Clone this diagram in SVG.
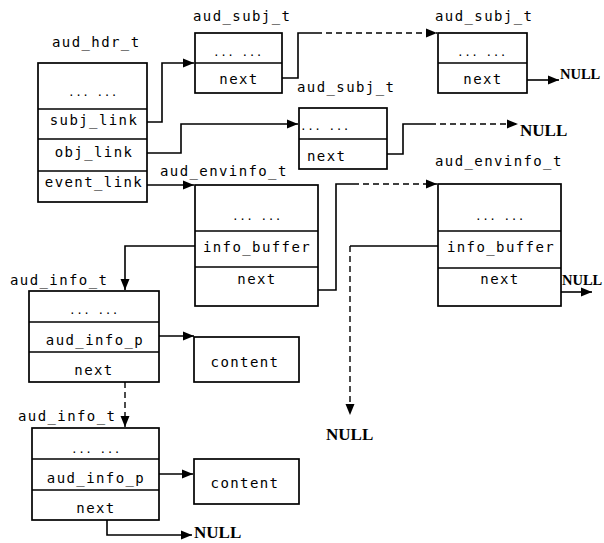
<svg xmlns="http://www.w3.org/2000/svg" width="604" height="543" viewBox="0 0 604 543">
<defs>
<marker id="ah" markerUnits="userSpaceOnUse" markerWidth="12" markerHeight="10" refX="11" refY="5" orient="auto">
<path d="M0,0.5 L11,5 L0,9.5 Z" fill="#000"/>
</marker>
<style>
.box{fill:#fff;stroke:#000;stroke-width:1.7}
.div{stroke:#000;stroke-width:1.5}
.t{font-family:"DejaVu Sans Mono",monospace;font-size:14px;letter-spacing:1.4px;fill:#000}
.c{text-anchor:middle}
.dots{font-family:"DejaVu Sans Mono",monospace;font-size:11px;letter-spacing:0.5px;fill:#000;text-anchor:middle}
.null{font-family:"Liberation Serif",serif;font-size:17px;font-weight:bold;fill:#000}
.nr{font-size:14.5px}
.ln{fill:none;stroke:#000;stroke-width:1.6}
.dash{fill:none;stroke:#000;stroke-width:1.4;stroke-dasharray:6 4}
</style>
</defs>
<rect width="604" height="543" fill="#fff"/>

<g id="connectors">
<path class="ln" d="M147,122 H162 V63 H194" marker-end="url(#ah)"/>
<path class="ln" d="M282,78 H298 V33 H316"/>
<path class="dash" d="M316,33 H437" marker-end="url(#ah)"/>
<path class="ln" d="M527,80 H559" marker-end="url(#ah)"/>
<path class="ln" d="M147,153 H181 V124 H298" marker-end="url(#ah)"/>
<path class="ln" d="M387,154 H403 V124 H430"/>
<path class="dash" d="M430,124 H518" marker-end="url(#ah)"/>
<path class="ln" d="M147,185 H194" marker-end="url(#ah)"/>
<path class="ln" d="M195,246 H125 V290" marker-end="url(#ah)"/>
<path class="ln" d="M318,290 H336 V184 H353"/>
<path class="dash" d="M353,184 H437" marker-end="url(#ah)"/>
<path class="ln" d="M438,246 H350" style="stroke-width:1.3"/>
<path class="dash" d="M350,246 V415" marker-end="url(#ah)"/>
<path class="ln" d="M561,292 H592" marker-end="url(#ah)"/>
<path class="ln" d="M159,336 H194" marker-end="url(#ah)"/>
<path class="dash" d="M125,382 V427" marker-end="url(#ah)"/>
<path class="ln" d="M159,474 H193" marker-end="url(#ah)"/>
<path class="ln" d="M107,520 V535 H192" marker-end="url(#ah)"/>
</g>

<g id="aud_hdr_t">
<text class="t" x="52" y="47">aud_hdr_t</text>
<rect class="box" x="38" y="63" width="109" height="139"/>
<line class="div" x1="38" y1="109" x2="147" y2="109"/>
<line class="div" x1="38" y1="139" x2="147" y2="139"/>
<line class="div" x1="38" y1="171" x2="147" y2="171"/>
<text class="dots" x="93" y="96">... ...</text>
<text class="t c" x="94" y="125">subj_link</text>
<text class="t c" x="94" y="157">obj_link</text>
<text class="t c" x="94" y="187">event_link</text>
</g>

<g id="aud_subj_t_1">
<text class="t" x="193" y="21">aud_subj_t</text>
<rect class="box" x="195" y="33" width="87" height="60"/>
<line class="div" x1="195" y1="63" x2="282" y2="63"/>
<text class="dots" x="238" y="56">... ...</text>
<text class="t c" x="239" y="84">next</text>
</g>

<g id="aud_subj_t_3">
<text class="t" x="435" y="21">aud_subj_t</text>
<rect class="box" x="438" y="33" width="89" height="60"/>
<line class="div" x1="438" y1="63" x2="527" y2="63"/>
<text class="dots" x="482" y="56">... ...</text>
<text class="t c" x="483" y="84">next</text>
<text class="null nr" x="560" y="79">NULL</text>
</g>

<g id="aud_subj_t_2">
<text class="t" x="297" y="92">aud_subj_t</text>
<rect class="box" x="299" y="108" width="88" height="61"/>
<line class="div" x1="299" y1="139" x2="387" y2="139"/>
<text class="dots" x="325" y="130">... ...</text>
<text class="t" x="307" y="161">next</text>
<text class="null" x="520" y="136">NULL</text>
</g>

<g id="aud_envinfo_t_1">
<text class="t" x="160" y="176">aud_envinfo_t</text>
<rect class="box" x="195" y="185" width="123" height="121"/>
<line class="div" x1="195" y1="231" x2="318" y2="231"/>
<line class="div" x1="195" y1="267" x2="318" y2="267"/>
<text class="dots" x="257" y="220">... ...</text>
<text class="t c" x="257" y="252">info_buffer</text>
<text class="t c" x="257" y="284">next</text>
</g>

<g id="aud_envinfo_t_2">
<text class="t" x="435" y="166">aud_envinfo_t</text>
<rect class="box" x="438" y="184" width="123" height="122"/>
<line class="div" x1="438" y1="231" x2="561" y2="231"/>
<line class="div" x1="438" y1="268" x2="561" y2="268"/>
<text class="dots" x="500" y="220">... ...</text>
<text class="t c" x="501" y="252">info_buffer</text>
<text class="t c" x="500" y="284">next</text>
<text class="null nr" x="562" y="285">NULL</text>
<text class="null" x="326" y="440">NULL</text>
</g>

<g id="aud_info_t_1">
<text class="t" x="10" y="285">aud_info_t</text>
<rect class="box" x="29" y="291" width="130" height="91"/>
<line class="div" x1="29" y1="322" x2="159" y2="322"/>
<line class="div" x1="29" y1="352" x2="159" y2="352"/>
<text class="dots" x="94" y="314">... ...</text>
<text class="t c" x="95" y="345">aud_info_p</text>
<text class="t c" x="94" y="375">next</text>
</g>

<g id="content_1">
<rect class="box" x="194" y="337" width="105" height="45"/>
<text class="t c" x="245" y="367">content</text>
</g>

<g id="aud_info_t_2">
<text class="t" x="18" y="421">aud_info_t</text>
<rect class="box" x="32" y="428" width="127" height="92"/>
<line class="div" x1="32" y1="459" x2="159" y2="459"/>
<line class="div" x1="32" y1="490" x2="159" y2="490"/>
<text class="dots" x="96" y="453">... ...</text>
<text class="t c" x="96" y="483">aud_info_p</text>
<text class="t c" x="96" y="513">next</text>
<text class="null" x="194" y="538">NULL</text>
</g>

<g id="content_2">
<rect class="box" x="194" y="459" width="105" height="45"/>
<text class="t c" x="245" y="488">content</text>
</g>
</svg>
